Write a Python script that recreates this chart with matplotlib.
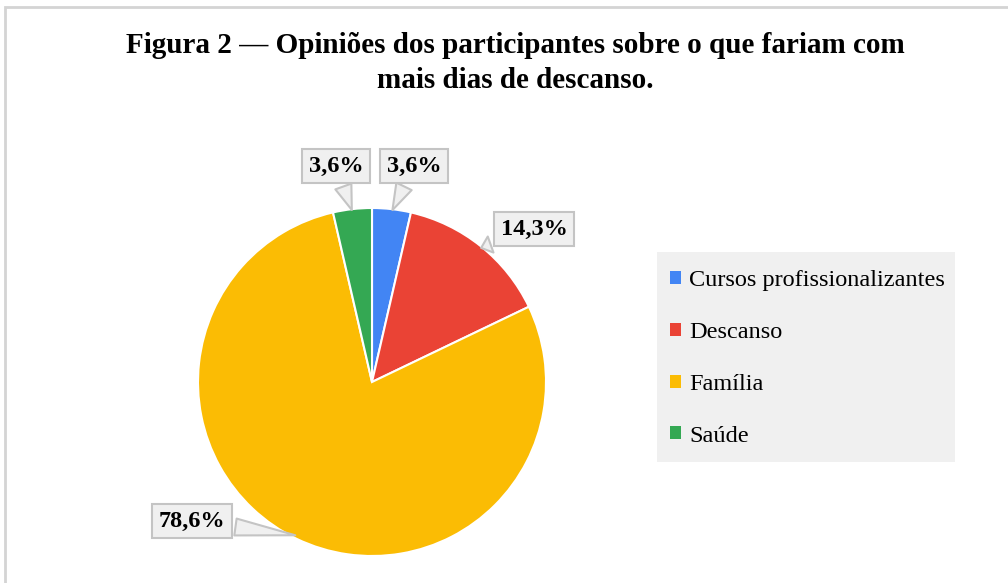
import matplotlib.pyplot as plt
import numpy as np
from matplotlib.patches import Rectangle, Patch

categorias = ["Cursos profissionalizantes", "Descanso", "Família", "Saúde"]
percentuais = [3.6, 14.3, 78.6, 3.6]
rotulos = ["3,6%", "14,3%", "78,6%", "3,6%"]
cores = ["#4285F4", "#EA4335", "#FBBC04", "#34A853"]

W, H = 1008, 583
plt.rcParams['font.family'] = ['Liberation Serif', 'DejaVu Serif']

fig = plt.figure(figsize=(W / 100, H / 100), dpi=100)

# moldura cinza clara
fig.patches.append(Rectangle((5 / W, -0.1), 1.2, 1 - 7 / H + 0.1, transform=fig.transFigure,
                             fill=False, edgecolor="#d4d4d4", linewidth=2))

fig.text(515 / W, 1 - 63 / H, "Figura 2 — Opiniões dos participantes sobre o que fariam com\nmais dias de descanso.",
         ha="center", va="center", fontsize=21, fontweight="bold", linespacing=1.35)

cx, cy, r = 372, 382, 174
ax = fig.add_axes([(cx - r) / W, (H - cy - r) / H, 2 * r / W, 2 * r / H])
wedges, _ = ax.pie(percentuais, colors=cores, startangle=90, counterclock=False,
                   wedgeprops=dict(edgecolor="white", linewidth=1.5))
ax.set_xlim(-1, 1)
ax.set_ylim(-1, 1)
ax.set_aspect("equal")
ax.axis("off")

# posicoes dos rotulos (em coordenadas do pie)
pos_rotulos = [(0.241, 1.241), (0.931, 0.879), (-1.034, -0.799), (-0.207, 1.241)]
for w, txt, (tx, ty) in zip(wedges, rotulos, pos_rotulos):
    ang = np.deg2rad((w.theta1 + w.theta2) / 2)
    px, py = 0.98 * np.cos(ang), 0.98 * np.sin(ang)
    ax.annotate(txt, xy=(px, py), xytext=(tx, ty), ha="center", va="center",
                fontsize=17.5, fontweight="bold", annotation_clip=False,
                bbox=dict(boxstyle="square,pad=0.27", fc="#f0f0f0", ec="#c4c4c4", lw=1.5),
                arrowprops=dict(arrowstyle="wedge,tail_width=0.7,shrink_factor=0.5",
                                fc="#f0f0f0", ec="#c4c4c4", lw=1.5))

# legenda
fig.patches.append(Rectangle((657 / W, 1 - 462 / H), 298 / W, 210 / H, transform=fig.transFigure,
                             facecolor="#f0f0f0", edgecolor="none"))
handles = [Patch(facecolor=c, edgecolor="none") for c in cores]
fig.legend(handles, categorias, loc="upper left", bbox_to_anchor=(670 / W, 1 - 270 / H),
           frameon=False, fontsize=17.5, handlelength=0.45, handleheight=0.45,
           handletextpad=0.35, labelspacing=1.27, borderpad=0, borderaxespad=0)

fig.savefig("out.png", dpi=100)
